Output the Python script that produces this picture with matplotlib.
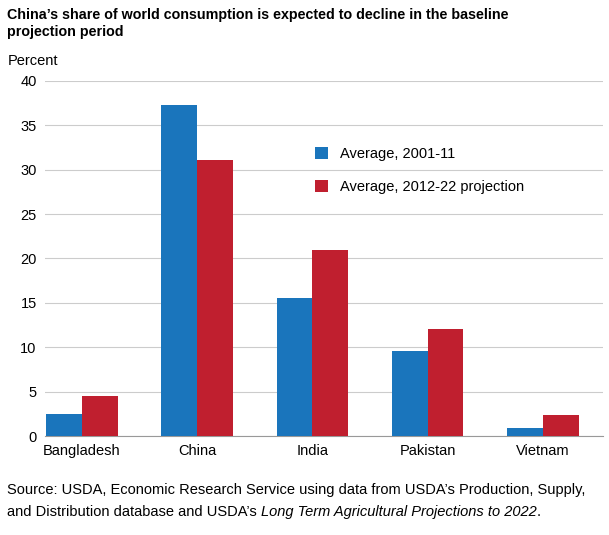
import matplotlib
matplotlib.use("Agg")
import matplotlib.pyplot as plt
from matplotlib.offsetbox import TextArea, HPacker, AnchoredOffsetbox
import numpy as np

categories = ["Bangladesh", "China", "India", "Pakistan", "Vietnam"]
avg_2001_11 = [2.5, 37.3, 15.5, 9.6, 0.9]
avg_2012_22 = [4.5, 31.1, 20.9, 12.0, 2.4]
yticks = [0, 5, 10, 15, 20, 25, 30, 35, 40]

plt.rcParams['font.family'] = ['Liberation Sans', 'DejaVu Sans']
fig = plt.figure(figsize=(6.09, 5.35), dpi=100)
ax = fig.add_axes([0.074, 0.185, 0.916, 0.664])
x = np.arange(len(categories))
w = 0.31
ax.bar(x - w/2, avg_2001_11, w, color="#1a75bc", label="Average, 2001-11", zorder=3)
ax.bar(x + w/2, avg_2012_22, w, color="#c01f2f", label="Average, 2012-22 projection", zorder=3)
ax.set_xlim(-0.32, 4.52)
ax.set_ylim(0, 40)
ax.set_yticks(yticks)
ax.set_xticks(x)
ax.set_xticklabels(categories)
ax.grid(axis='y', color="#cccccc", linewidth=0.8, zorder=0)
for s in ["top", "right", "left"]:
    ax.spines[s].set_visible(False)
ax.spines["bottom"].set_color("#999999")
ax.tick_params(axis='both', length=0, labelsize=10.5, pad=6)
ax.legend(loc="upper left", bbox_to_anchor=(0.46, 0.85), frameon=False, fontsize=10.5,
          handlelength=0.9, handleheight=0.9, labelspacing=1.3)
fig.text(0.012, 0.985, "China’s share of world consumption is expected to decline in the baseline\nprojection period",
         fontsize=10.3, fontweight='bold', va='top', ha='left', linespacing=1.3)
fig.text(0.012, 0.872, "Percent", fontsize=10.5, va='bottom', ha='left')
fig.text(0.012, 0.098, "Source: USDA, Economic Research Service using data from USDA’s Production, Supply,",
         fontsize=10.5, va='top', ha='left')
t1 = TextArea("and Distribution database and USDA’s ", textprops=dict(fontsize=10.5))
t2 = TextArea("Long Term Agricultural Projections to 2022", textprops=dict(fontsize=10.5, style='italic'))
t3 = TextArea(".", textprops=dict(fontsize=10.5))
box = HPacker(children=[t1, t2, t3], align="baseline", pad=0, sep=0)
ab = AnchoredOffsetbox(loc="upper left", child=box, pad=0, frameon=False,
                       bbox_to_anchor=(0.012, 0.057), bbox_transform=fig.transFigure, borderpad=0)
fig.add_artist(ab)
fig.savefig("out.png", dpi=100)
